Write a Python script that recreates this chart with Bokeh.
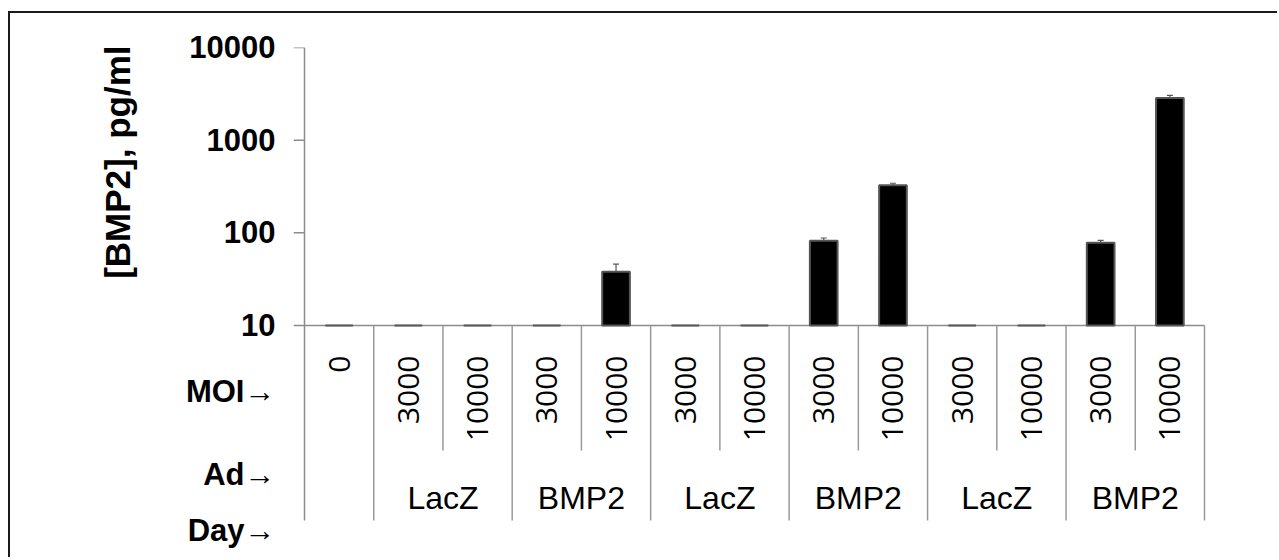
import numpy as np
from bokeh.plotting import figure
from bokeh.models import (ColumnDataSource, Range1d, FixedTicker, CustomJSTickFormatter,
                          Whisker, TeeHead)
from bokeh.core.properties import value
from bokeh.embed import file_html
from bokeh.resources import INLINE

# ---- data ----
moi_labels = ["0", "3000", "10000", "3000", "10000", "3000", "10000",
              "3000", "10000", "3000", "10000", "3000", "10000"]
ad_labels = ["LacZ", "BMP2", "LacZ", "BMP2", "LacZ", "BMP2"]
bmp2_pg_ml = [10, 10, 10, 10, 38, 10, 10, 82, 326, 10, 10, 78, 2850]
err_upper = [0, 0, 0, 0, 8, 0, 0, 6, 17, 0, 0, 5, 190]
row_labels = ["MOI\u2192", "Ad\u2192", "Day\u2192"]
y_ticks = [10, 100, 1000, 10000]

n = len(moi_labels)
xc = [i + 0.5 for i in range(n)]

DEC = 92.67   # px per decade
CAT = 69.23   # px per category


def ybelow(px):
    """log-scale value lying px pixels below the baseline of 10"""
    return 10 ** (1 - px / DEC)


W, H = 1269, 546
p = figure(width=W, height=H, output_backend="svg", toolbar_location=None,
           y_axis_type="log", title_location="left",
           x_range=Range1d(-11 / CAT, 13 + 75 / CAT),
           y_range=Range1d(ybelow(223), 10000),
           min_border_left=283, min_border_top=34, min_border_bottom=11,
           min_border_right=0)
p.styles = {"border-left": "2px solid #1a1a1a", "border-top": "2px solid #1a1a1a",
            "margin-left": "8px", "margin-top": "11px"}
p.outline_line_color = None
p.grid.visible = False
p.xaxis.visible = False
p.background_fill_color = "white"
p.border_fill_color = "white"

# title as the y-axis title (top-aligned like the reference)
p.title.text = "[BMP2], pg/ml"
p.title.align = "right"
p.title.offset = -2
p.title.standoff = 91
p.title.text_font = "Liberation Sans"
p.title.text_font_style = "bold"
p.title.text_font_size = "35px"
p.title.text_color = "black"

row_y = [ybelow(66), ybelow(149), ybelow(205)]

ya = p.yaxis[0]
ya.ticker = FixedTicker(ticks=row_y + y_ticks, minor_ticks=[])
ya.formatter = CustomJSTickFormatter(args=dict(rows=row_labels), code="""
    if (tick >= 9.99) return String(Math.round(tick));
    if (tick > 1) return rows[0];
    if (tick > 0.1) return rows[1];
    return rows[2];
""")
ya.axis_line_color = None
ya.major_tick_line_color = None
ya.minor_tick_line_color = None
ya.major_tick_out = 0
ya.major_tick_in = 0
ya.major_label_text_font = "Liberation Sans"
ya.major_label_text_font_style = "bold"
ya.major_label_text_font_size = "31px"
ya.major_label_text_color = "black"
ya.major_label_standoff = 18

GRAY = "#8c8c8c"
bottom_line = ybelow(195)
# y-axis line and tick marks
p.segment(x0=[0], y0=[10000], x1=[0], y1=[bottom_line], line_color=GRAY, line_width=1.5)
p.segment(x0=[-11 / CAT] * len(y_ticks), y0=y_ticks, x1=[0] * len(y_ticks), y1=y_ticks,
          line_color=GRAY, line_width=1.5)
# x axis baseline
p.segment(x0=[0], y0=[10], x1=[n], y1=[10], line_color=GRAY, line_width=1.5)

# bars
src = ColumnDataSource(dict(x=xc, top=bmp2_pg_ml, bottom=[10] * n))
p.vbar(x="x", width=0.4, bottom="bottom", top="top", source=src,
       fill_color="black", line_color="#555555", line_width=2)

# error bars (upper only)
ex = [x for x, e in zip(xc, err_upper) if e > 0]
eb = [v for v, e in zip(bmp2_pg_ml, err_upper) if e > 0]
eu = [v + e for v, e in zip(bmp2_pg_ml, err_upper) if e > 0]
esrc = ColumnDataSource(dict(x=ex, base=eb, upper=eu))
p.add_layout(Whisker(base="x", lower="base", upper="upper", source=esrc,
                     dimension="height", line_color="#555555", line_width=1.2,
                     upper_head=TeeHead(size=6, line_color="#555555", line_width=1.2),
                     lower_head=None))

# category separators
grp_div = [1, 3, 5, 7, 9, 11, 13]
in_div = [2, 4, 6, 8, 10, 12]
p.segment(x0=grp_div, y0=[10] * len(grp_div), x1=grp_div, y1=[bottom_line] * len(grp_div),
          line_color="#999999", line_width=1.5)
p.segment(x0=in_div, y0=[10] * len(in_div), x1=in_div, y1=[ybelow(125)] * len(in_div),
          line_color="#999999", line_width=1.5)

# MOI labels (rotated)
p.text(x=xc, y=[ybelow(30)] * n, text=moi_labels, angle=np.pi / 2,
       text_align="right", text_baseline="middle",
       text_font=value("Open Sans"), text_font_size="30px", text_color="black")

# Ad labels (groups)
gx = [2, 4, 6, 8, 10, 12]
p.text(x=gx, y=[ybelow(172)] * len(gx), text=ad_labels,
       text_align="center", text_baseline="middle",
       text_font=value("Liberation Sans"), text_font_size="32px", text_color="black")

open("out.html", "w").write(file_html(p, INLINE))
